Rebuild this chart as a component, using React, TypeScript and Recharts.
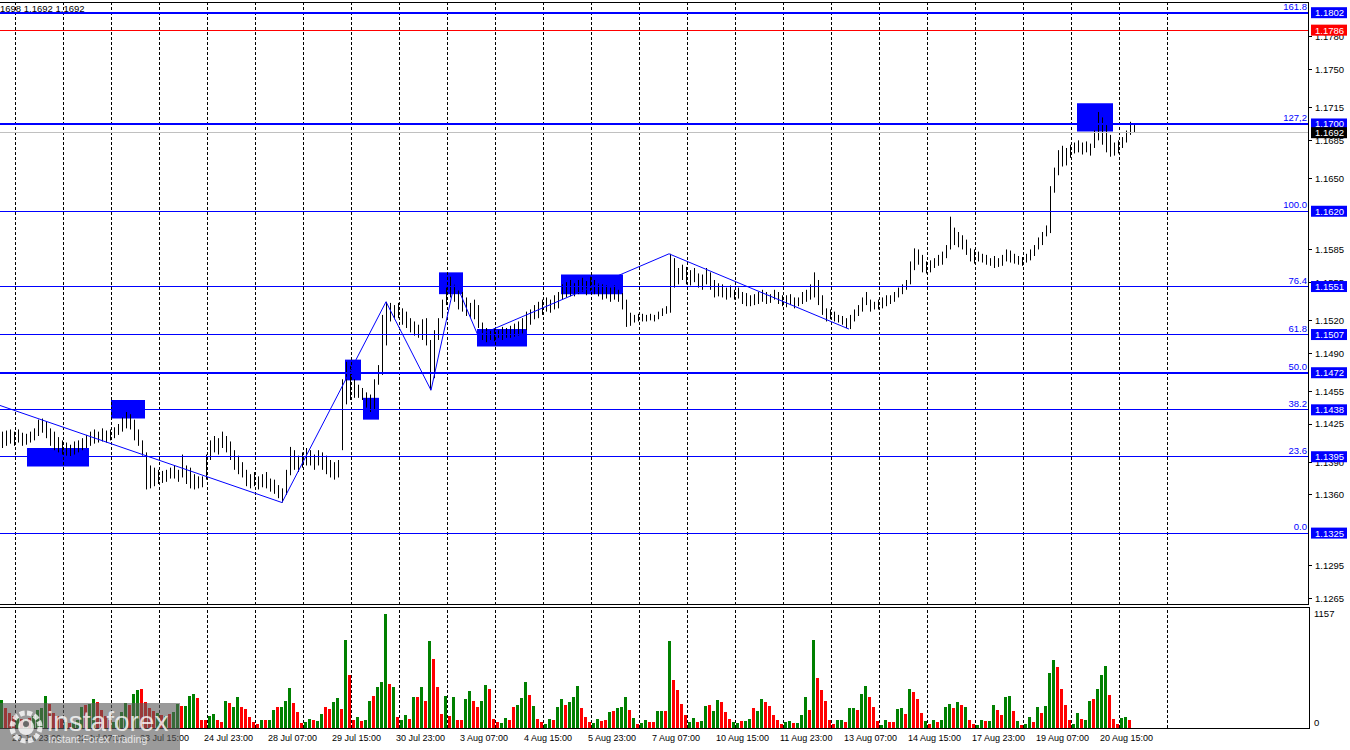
import React from "react";
import {
  ComposedChart,
  Bar,
  XAxis,
  YAxis,
  ReferenceLine,
  ReferenceArea,
  Cell,
} from "recharts";

// H2 bars
const highs = [
  1.1418, 1.1419, 1.142, 1.1418, 1.142, 1.1417, 1.1416, 1.1418, 1.1421, 1.1429,
  1.143, 1.1427, 1.1421, 1.1418, 1.1413, 1.141, 1.1408, 1.1406, 1.1409, 1.141,
  1.1412, 1.1415, 1.1418, 1.142, 1.1418, 1.1421, 1.1419, 1.142, 1.1422, 1.1425,
  1.1431, 1.1436, 1.1434, 1.1429, 1.142, 1.141, 1.1399, 1.1387, 1.1385, 1.1383,
  1.1382, 1.1383, 1.1385, 1.1387, 1.1383, 1.1397, 1.1387, 1.1385, 1.1379, 1.1377,
  1.1377, 1.1397, 1.141, 1.1414, 1.1412, 1.1418, 1.1414, 1.1409, 1.1401, 1.1396,
  1.139, 1.1383, 1.1379, 1.1381, 1.1377, 1.1379, 1.1381, 1.1375, 1.1374, 1.1369,
  1.1366, 1.1383, 1.1404, 1.1401, 1.1396, 1.1399, 1.1403, 1.1401, 1.1397, 1.1401,
  1.1399, 1.1396, 1.1392, 1.139, 1.1392, 1.1466, 1.1482, 1.1478, 1.1466, 1.1461,
  1.1458, 1.1454, 1.1452, 1.1466, 1.1479, 1.1525, 1.1537, 1.1536, 1.1534, 1.1536,
  1.1531, 1.1528, 1.1522, 1.1519, 1.1516, 1.1521, 1.1522, 1.1502, 1.1511, 1.1522,
  1.1539, 1.155, 1.156, 1.1554, 1.1548, 1.1546, 1.1541, 1.1536, 1.1539, 1.1534,
  1.1518, 1.1513, 1.1511, 1.1513, 1.1511, 1.1514, 1.1513, 1.1515, 1.1517, 1.1519,
  1.1522, 1.1528, 1.153, 1.1534, 1.1537, 1.1539, 1.1541, 1.1539, 1.1543, 1.1546,
  1.1553, 1.1555, 1.1557, 1.1554, 1.1557, 1.1559, 1.1556, 1.156, 1.1557, 1.1554,
  1.1553, 1.1552, 1.155, 1.1552, 1.1548, 1.1545, 1.1539, 1.1527, 1.1525, 1.1526,
  1.1526, 1.1525, 1.1526, 1.1525, 1.1528, 1.1531, 1.1533, 1.1581, 1.1577, 1.1568,
  1.1571, 1.1569, 1.1566, 1.1568, 1.1563, 1.1562, 1.1568, 1.1564, 1.1557, 1.1554,
  1.1553, 1.155, 1.1552, 1.1548, 1.155, 1.1546, 1.1545, 1.1543, 1.1544, 1.1546,
  1.1548, 1.1546, 1.1544, 1.1548, 1.1546, 1.1543, 1.1543, 1.1544, 1.1541, 1.1541,
  1.1546, 1.1548, 1.1553, 1.1564, 1.1557, 1.1543, 1.1531, 1.153, 1.1528, 1.1525,
  1.1524, 1.1522, 1.1525, 1.153, 1.1534, 1.1541, 1.1546, 1.1539, 1.1537, 1.1539,
  1.1541, 1.1543, 1.1543, 1.1546, 1.155, 1.1553, 1.1557, 1.1574, 1.1586, 1.1585,
  1.158, 1.1574, 1.1575, 1.1577, 1.158, 1.1583, 1.1589, 1.1615, 1.1605, 1.1601,
  1.1598, 1.1594, 1.1586, 1.1585, 1.1583, 1.1581, 1.158, 1.1577, 1.1579, 1.1577,
  1.158, 1.1585, 1.1584, 1.1581, 1.1579, 1.1578, 1.1581, 1.1585, 1.1589, 1.1596,
  1.1601, 1.1607, 1.1643, 1.166, 1.1676, 1.168, 1.1678, 1.1681, 1.1683, 1.1685,
  1.1683, 1.1684, 1.1682, 1.1694, 1.1711, 1.1706, 1.1699, 1.169, 1.1683, 1.1685,
  1.1688, 1.1694, 1.1702, 1.1699,
];

const lows = [
  1.1403, 1.1405, 1.1407, 1.1405, 1.1408, 1.1405, 1.1406, 1.1408, 1.141, 1.1414,
  1.1417, 1.1412, 1.1405, 1.1401, 1.1399, 1.1397, 1.1396, 1.1395, 1.1397, 1.1399,
  1.1401, 1.1403, 1.1405, 1.1407, 1.1408, 1.1409, 1.1408, 1.141, 1.1412, 1.1415,
  1.1418, 1.1421, 1.142, 1.141, 1.1405, 1.1396, 1.1365, 1.1366, 1.1368, 1.137,
  1.1371, 1.1372, 1.1375, 1.1375, 1.1372, 1.1376, 1.137, 1.1366, 1.1365, 1.1366,
  1.1367, 1.1374, 1.1392, 1.1399, 1.1397, 1.1403, 1.1399, 1.1392, 1.1383, 1.1379,
  1.1376, 1.1368, 1.1366, 1.1368, 1.1365, 1.1367, 1.1366, 1.1363, 1.1361, 1.1357,
  1.1353, 1.136, 1.1378, 1.1383, 1.1381, 1.1385, 1.1387, 1.1387, 1.1383, 1.1387,
  1.1383, 1.1379, 1.1376, 1.1374, 1.1376, 1.1401, 1.1443, 1.1447, 1.1449, 1.1449,
  1.1447, 1.144, 1.1436, 1.1438, 1.1461, 1.147, 1.1497, 1.1519, 1.1521, 1.1522,
  1.1516, 1.1513, 1.1509, 1.1506, 1.1504, 1.1502, 1.1497, 1.1456, 1.1467, 1.1502,
  1.1522, 1.1534, 1.1541, 1.1537, 1.153, 1.1528, 1.1524, 1.1522, 1.1521, 1.1513,
  1.1502, 1.15, 1.1502, 1.1501, 1.1504, 1.1502, 1.1504, 1.1504, 1.1505, 1.1506,
  1.1508, 1.1511, 1.1516, 1.1521, 1.1522, 1.1525, 1.1528, 1.1527, 1.153, 1.1531,
  1.1539, 1.1541, 1.1542, 1.1542, 1.1544, 1.1546, 1.1543, 1.1547, 1.1544, 1.1542,
  1.1539, 1.154, 1.1537, 1.1539, 1.1537, 1.153, 1.1514, 1.1515, 1.1518, 1.1519,
  1.1519, 1.1519, 1.152, 1.1519, 1.1521, 1.1524, 1.1526, 1.1527, 1.155, 1.1553,
  1.1557, 1.1553, 1.1552, 1.1555, 1.155, 1.1548, 1.1553, 1.1548, 1.1541, 1.1542,
  1.1541, 1.1539, 1.1541, 1.1539, 1.154, 1.1535, 1.1533, 1.1533, 1.1534, 1.1535,
  1.1537, 1.1535, 1.1536, 1.1539, 1.1535, 1.1533, 1.1532, 1.1534, 1.1531, 1.1533,
  1.1535, 1.1537, 1.1539, 1.1541, 1.1534, 1.1525, 1.1519, 1.1521, 1.1519, 1.1518,
  1.1516, 1.1513, 1.1512, 1.1519, 1.1524, 1.1528, 1.1534, 1.1528, 1.153, 1.153,
  1.1531, 1.1533, 1.1535, 1.1537, 1.1541, 1.1544, 1.1548, 1.1553, 1.1566, 1.1571,
  1.1564, 1.1563, 1.1564, 1.1568, 1.157, 1.1571, 1.1577, 1.1585, 1.1589, 1.1587,
  1.1585, 1.158, 1.1574, 1.1572, 1.1574, 1.1573, 1.1571, 1.157, 1.1568, 1.1569,
  1.157, 1.1574, 1.1573, 1.1572, 1.1571, 1.157, 1.1573, 1.1575, 1.1579, 1.1585,
  1.1589, 1.1597, 1.16, 1.1637, 1.1653, 1.1661, 1.1662, 1.1669, 1.1673, 1.1674,
  1.1672, 1.1674, 1.1671, 1.1678, 1.1685, 1.1681, 1.1674, 1.167, 1.1671, 1.1673,
  1.1678, 1.1683, 1.169, 1.1692,
];

const volumes = [
  280, 200, 150, 120, 100, 90, 80, 100, 120, 180,
  200, 320, 240, 150, 120, 90, 60, 50, 60, 80,
  210, 230, 240, 290, 260, 180, 120, 80, 60, 80,
  160, 255, 230, 345, 390, 395, 260, 200, 170, 150,
  130, 120, 140, 160, 245, 228, 228, 328, 345, 300,
  84, 77, 117, 144, 77, 60, 278, 251, 218, 312,
  218, 194, 110, 60, 37, 84, 77, 84, 178, 218,
  218, 278, 405, 251, 160, 50, 60, 94, 77, 70,
  144, 218, 194, 261, 305, 194, 898, 539, 77, 110,
  70, 77, 278, 328, 419, 462, 1157, 446, 419, 110,
  84, 127, 94, 318, 318, 419, 278, 881, 697, 412,
  144, 328, 117, 318, 84, 77, 295, 372, 278, 218,
  278, 439, 395, 94, 60, 50, 104, 77, 218, 238,
  305, 462, 338, 228, 94, 60, 44, 94, 77, 211,
  295, 238, 261, 318, 429, 204, 110, 60, 50, 94,
  70, 77, 160, 171, 204, 218, 318, 178, 104, 44,
  50, 84, 60, 60, 171, 171, 171, 888, 486, 385,
  245, 127, 60, 104, 60, 70, 228, 238, 171, 285,
  261, 160, 94, 60, 50, 70, 70, 94, 204, 171,
  295, 268, 228, 137, 77, 37, 60, 70, 50, 50,
  137, 312, 184, 898, 506, 385, 278, 77, 44, 77,
  77, 60, 204, 204, 178, 345, 429, 318, 211, 70,
  27, 77, 60, 60, 194, 204, 144, 395, 362, 295,
  151, 70, 44, 84, 60, 84, 211, 245, 204, 261,
  238, 211, 84, 37, 27, 77, 70, 70, 238, 178,
  137, 312, 328, 171, 70, 27, 44, 110, 60, 218,
  151, 228, 560, 687, 620, 395, 238, 84, 44, 151,
  94, 84, 278, 295, 395, 539, 630, 338, 94, 44,
  104, 110, 84, 5,
];

// 1 = up bar (green volume), 0 = down bar (red volume)
const volumeUp = [
  1, 0, 0, 0, 1, 0, 1, 0, 1, 1,
  1, 1, 0, 0, 0, 0, 1, 0, 1, 1,
  1, 0, 1, 1, 0, 0, 0, 0, 1, 1,
  1, 1, 0, 1, 1, 0, 0, 0, 0, 1,
  0, 1, 0, 1, 1, 0, 1, 1, 1, 0,
  0, 0, 1, 1, 0, 0, 1, 0, 1, 1,
  0, 0, 0, 0, 0, 1, 0, 1, 1, 0,
  1, 1, 1, 0, 0, 0, 1, 1, 0, 1,
  1, 0, 0, 1, 1, 0, 1, 0, 0, 1,
  0, 1, 1, 0, 1, 1, 1, 0, 1, 0,
  1, 1, 0, 1, 0, 1, 0, 1, 0, 0,
  0, 1, 0, 1, 0, 0, 1, 1, 0, 0,
  1, 1, 0, 0, 0, 1, 1, 0, 0, 1,
  1, 1, 0, 1, 0, 0, 1, 1, 0, 1,
  1, 0, 1, 1, 1, 0, 0, 0, 1, 1,
  0, 0, 1, 0, 1, 1, 1, 0, 1, 0,
  1, 1, 0, 0, 1, 1, 0, 1, 0, 0,
  0, 0, 1, 1, 0, 1, 1, 0, 1, 1,
  0, 0, 0, 1, 1, 0, 1, 1, 0, 1,
  1, 0, 0, 0, 0, 0, 1, 1, 0, 1,
  1, 1, 0, 1, 0, 0, 0, 0, 0, 1,
  1, 0, 1, 1, 0, 1, 1, 0, 0, 0,
  1, 1, 0, 0, 1, 1, 0, 1, 0, 0,
  0, 1, 0, 1, 0, 1, 1, 1, 0, 1,
  0, 1, 0, 0, 1, 1, 0, 1, 1, 0,
  0, 1, 1, 0, 1, 0, 1, 1, 0, 1,
  0, 1, 1, 1, 0, 0, 0, 0, 1, 1,
  0, 1, 1, 0, 1, 1, 1, 0, 0, 0,
  1, 1, 0, 0,
];

const priceTicks = [
  1.1265, 1.1295, 1.136, 1.139, 1.1425, 1.1455, 1.149, 1.152, 1.1555, 1.1585,
  1.165, 1.1685, 1.1715, 1.175, 1.178,
];
const fibPrices = [1.1802, 1.17, 1.162, 1.1551, 1.1507, 1.1472, 1.1438, 1.1395, 1.1325];
const fibRatios = ["161.8", "127,2", "100.0", "76.4", "61.8", "50.0", "38.2", "23.6", "0.0"];
const targetPrice = 1.1786;
const lastPrice = 1.1692;

const timeLabels = [
  "20 Jul 23:00", "22 Jul 07:00", "23 Jul 15:00", "24 Jul 23:00", "28 Jul 07:00",
  "29 Jul 15:00", "30 Jul 23:00", "3 Aug 07:00", "4 Aug 15:00", "5 Aug 23:00",
  "7 Aug 07:00", "10 Aug 15:00", "11 Aug 23:00", "13 Aug 07:00", "14 Aug 15:00",
  "17 Aug 23:00", "19 Aug 07:00", "20 Aug 15:00",
];
const volumeTicks = [0, 1157];

// zigzag turning points (bar index, price)
const zigzag = [
  { x: 0, y: 1.1442 },
  { x: 70.5, y: 1.1353 },
  { x: 96.5, y: 1.1537 },
  { x: 107.75, y: 1.1456 },
  { x: 113.75, y: 1.1556 },
  { x: 119.5, y: 1.1506 },
  { x: 167.25, y: 1.1581 },
  { x: 212.25, y: 1.1512 },
];

// marked zones (bar index range, price range)
const zones = [
  { x1: 6.75, x2: 22.25, y1: 1.1386, y2: 1.1403 },
  { x1: 27.75, x2: 36.25, y1: 1.143, y2: 1.1447 },
  { x1: 86.25, x2: 90.25, y1: 1.1465, y2: 1.1484 },
  { x1: 90.75, x2: 94.75, y1: 1.1429, y2: 1.1449 },
  { x1: 109.75, x2: 115.75, y1: 1.1544, y2: 1.1564 },
  { x1: 119.25, x2: 131.75, y1: 1.1496, y2: 1.1512 },
  { x1: 140.25, x2: 155.75, y1: 1.1544, y2: 1.1562 },
  { x1: 269.25, x2: 278.25, y1: 1.1693, y2: 1.1719 },
];

const data = highs.map((h, i) => ({
  x: i + 0.5,
  range: [lows[i], h],
  vol: volumes[i],
  up: volumeUp[i],
}));

const X_DOMAIN = [0, 327.25];
const PRICE_DOMAIN = [1.12591, 1.18118];
const gridBars = Array.from({ length: 25 }, (_, k) => 3.75 + 12 * k);
const timeTicks = timeLabels.map((_, k) => 3 + 16 * k);
const boxPrices = [...fibPrices, targetPrice, lastPrice];
const thickLevels = [1.1802, 1.17, 1.1472];

const FONT = "'Liberation Sans', Arial, sans-serif";
const BLUE = "#0000ff";

function boxFill(v: number) {
  if (v === targetPrice) return "#ff0000";
  if (v === lastPrice) return "#000000";
  return BLUE;
}

function PriceTick(props: any) {
  const { x, y, payload } = props;
  const v = payload.value as number;
  const label = v.toFixed(4);
  if (boxPrices.includes(v)) {
    return (
      <g>
        <rect x={x + 2} y={y - 5.5} width={36} height={11} fill={boxFill(v)} />
        <text x={x + 6} y={y} dy="0.36em" fontSize={9.5} fontFamily={FONT} fill="#fff">
          {label}
        </text>
      </g>
    );
  }
  return (
    <g>
      <line x1={x} x2={x + 3} y1={y} y2={y} stroke="#000" shapeRendering="crispEdges" />
      <text x={x + 6} y={y} dy="0.36em" fontSize={9.5} fontFamily={FONT} fill="#000">
        {label}
      </text>
    </g>
  );
}

function VolumeTick(props: any) {
  const { x, y, payload } = props;
  return (
    <text
      x={x + 5}
      y={payload.value === 0 ? y - 5 : y}
      dy="0.36em"
      fontSize={9.5}
      fontFamily={FONT}
      fill="#000"
    >
      {payload.value}
    </text>
  );
}

function TimeTick(props: any) {
  const { x, y, index } = props;
  return (
    <text x={x} y={y + 13} fontSize={9} fontFamily={FONT} fill="#000">
      {timeLabels[index]}
    </text>
  );
}

function OhlcShape(props: any) {
  const { x, y, width, height } = props;
  const cx = Math.round(x + width / 2) + 0.5;
  const top = Math.min(y, y + height);
  const h = Math.max(Math.abs(height), 1);
  return <line x1={cx} x2={cx} y1={top} y2={top + h} stroke="#000" strokeWidth={1} />;
}

function fibLabel(text: string) {
  return (p: any) => {
    const vb = p.viewBox;
    return (
      <text
        x={vb.x + vb.width - 2}
        y={vb.y - 3}
        textAnchor="end"
        fontSize={9.5}
        fontFamily={FONT}
        fill={BLUE}
      >
        {text}
      </text>
    );
  };
}

function gridLines() {
  return gridBars.map((g) => (
    <ReferenceLine
      key={"g" + g}
      x={g}
      stroke="#000"
      strokeDasharray="3 2"
      shapeRendering="crispEdges"
    />
  ));
}

function Watermark() {
  const ink = "rgba(255,255,255,0.78)";
  return (
    <svg width={180} height={47} style={{ position: "absolute", left: 0, top: 703 }}>
      <rect width={180} height={47} fill="rgba(92,92,92,0.62)" />
      <circle cx={26} cy={24} r={14} fill="none" stroke={ink} strokeWidth={5} strokeDasharray="5 2.4" />
      <circle cx={26} cy={24} r={8} fill={ink} />
      <circle cx={26} cy={21} r={3} fill="rgba(92,92,92,0.9)" />
      <text x={47} y={28} fontSize={28} fontFamily={FONT} fill={ink}>
        instaforex
      </text>
      <text x={48} y={40} fontSize={10.5} fontFamily={FONT} fill={ink}>
        Instant Forex Trading
      </text>
    </svg>
  );
}

export default function App() {
  return (
    <div
      style={{
        position: "absolute",
        left: 0,
        top: 0,
        width: 1350,
        height: 750,
        background: "#fff",
        overflow: "hidden",
      }}
    >
      <div style={{ position: "absolute", left: 0, top: 0 }}>
        <ComposedChart
          width={1350}
          height={606}
          data={data}
          margin={{ top: 2, right: 0, bottom: 1, left: 0 }}
        >
          <XAxis type="number" dataKey="x" domain={X_DOMAIN} allowDataOverflow hide />
          <YAxis
            orientation="right"
            width={41}
            domain={PRICE_DOMAIN}
            allowDataOverflow
            ticks={[...priceTicks, ...boxPrices]}
            interval={0}
            tickSize={0}
            tickMargin={0}
            tickLine={false}
            axisLine={false}
            tick={(p: any) => <PriceTick {...p} />}
          />
          {gridLines()}
          {zones.map((z, i) => (
            <ReferenceArea
              key={"z" + i}
              x1={z.x1}
              x2={z.x2}
              y1={z.y1}
              y2={z.y2}
              fill={BLUE}
              fillOpacity={1}
              stroke="none"
              ifOverflow="visible"
            />
          ))}
          <ReferenceLine y={targetPrice} stroke="#ff0000" strokeWidth={1} shapeRendering="crispEdges" />
          <ReferenceLine y={lastPrice} stroke="#c0c0c0" strokeWidth={1} shapeRendering="crispEdges" />
          {fibPrices.map((p, i) => (
            <ReferenceLine
              key={"f" + p}
              y={p}
              stroke={BLUE}
              strokeWidth={thickLevels.includes(p) ? 2 : 1}
              shapeRendering="crispEdges"
              label={fibLabel(fibRatios[i])}
            />
          ))}
          {zigzag.slice(1).map((pt, i) => (
            <ReferenceLine
              key={"zz" + i}
              segment={[zigzag[i], pt]}
              stroke={BLUE}
              strokeWidth={1}
              ifOverflow="visible"
            />
          ))}
          <Bar dataKey="range" isAnimationActive={false} shape={(p: any) => <OhlcShape {...p} />} />
        </ComposedChart>
      </div>

      <div style={{ position: "absolute", left: 0, top: 606 }}>
        <ComposedChart
          width={1350}
          height={144}
          data={data}
          margin={{ top: 1, right: 0, bottom: 0, left: 0 }}
        >
          <XAxis
            type="number"
            dataKey="x"
            domain={X_DOMAIN}
            allowDataOverflow
            ticks={timeTicks}
            interval={0}
            height={22}
            tickSize={0}
            tickMargin={0}
            tickLine={false}
            axisLine={false}
            tick={(p: any) => <TimeTick {...p} />}
          />
          <YAxis
            orientation="right"
            width={41}
            domain={[0, 1228]}
            allowDataOverflow
            ticks={volumeTicks}
            interval={0}
            tickSize={0}
            tickMargin={0}
            tickLine={false}
            axisLine={false}
            tick={(p: any) => <VolumeTick {...p} />}
          />
          {gridLines()}
          <Bar dataKey="vol" barSize={3} isAnimationActive={false} shapeRendering="crispEdges">
            {data.map((d, i) => (
              <Cell key={i} fill={d.up ? "#008000" : "#ff0000"} />
            ))}
          </Bar>
        </ComposedChart>
      </div>

      {/* panel frames */}
      <div
        style={{
          position: "absolute",
          left: 0,
          top: 2,
          width: 1309,
          height: 603,
          borderTop: "1px solid #000",
          borderRight: "1px solid #000",
          borderBottom: "1px solid #000",
          boxSizing: "border-box",
          pointerEvents: "none",
        }}
      />
      <div
        style={{
          position: "absolute",
          left: 0,
          top: 607,
          width: 1310,
          height: 122,
          borderTop: "1px solid #000",
          borderRight: "1px solid #000",
          borderBottom: "1px solid #000",
          boxSizing: "border-box",
          pointerEvents: "none",
        }}
      />

      <div
        style={{
          position: "absolute",
          left: 0,
          top: 4,
          fontFamily: FONT,
          fontSize: 9.5,
          lineHeight: "10px",
          color: "#000",
          whiteSpace: "nowrap",
        }}
      >
        1698 1.1692 1.1692
      </div>

      <Watermark />
    </div>
  );
}
